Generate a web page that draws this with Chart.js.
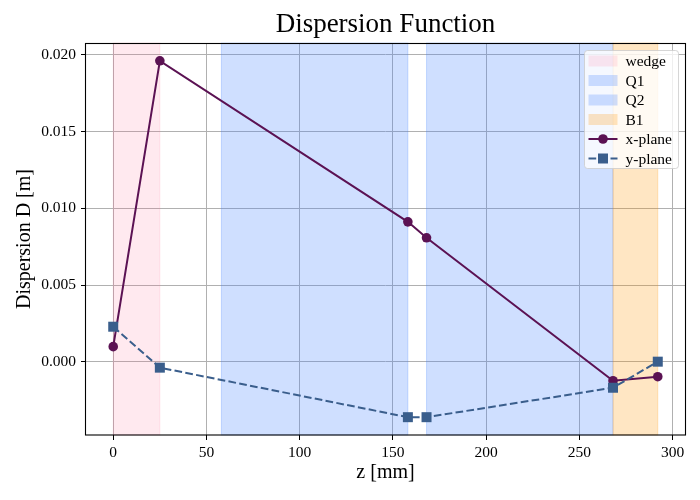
<!DOCTYPE html>
<html>
<head>
<meta charset="utf-8">
<script src="https://cdn.jsdelivr.net/npm/chart.js@4"></script>
<style>
  html, body { margin: 0; padding: 0; background: #fff; }
  #wrap { width: 700px; height: 500px; }
</style>
</head>
<body>
<div id="wrap"><canvas id="dispChart"></canvas></div>
<script>
// element positions along the beamline [mm]
const zPositions = [0, 25, 158, 168, 268, 292];
// dispersion [m]
const dispX = [0.00098, 0.01962, 0.00912, 0.00808, -0.00124, -0.00098];
const dispY = [0.00228, -0.00039, -0.00362, -0.00362, -0.0017, 0.0];

// shaded element regions [mm]
const regionNames = ['wedge', 'Q1', 'Q2', 'B1'];
const regionStart = [0, 58, 168, 268];
const regionEnd = [25, 158, 268, 292];
const regionColors = ['rgba(255,105,150,0.15)', 'rgba(64,128,255,0.25)', 'rgba(64,128,255,0.25)', 'rgba(255,150,0,0.235)'];

const xTicks = [0, 50, 100, 150, 200, 250, 300];
const yTicks = [0, 0.005, 0.010, 0.015, 0.020];

const lineNames = ['x-plane', 'y-plane'];
const lineColors = ['#5b1253', '#3a5e8c'];

const serif = "'Liberation Serif', 'DejaVu Serif', serif";
Chart.defaults.font.family = serif;
Chart.defaults.color = '#000';

const toPoints = (vals) => vals.map((v, i) => ({ x: zPositions[i], y: v }));

// axvspan style shading
const regionPlugin = {
  id: 'regions',
  beforeDatasetsDraw(chart) {
    const { ctx, chartArea, scales } = chart;
    ctx.save();
    regionNames.forEach((name, i) => {
      const x0 = scales.x.getPixelForValue(regionStart[i]);
      const x1 = scales.x.getPixelForValue(regionEnd[i]);
      ctx.fillStyle = regionColors[i];
      ctx.fillRect(x0, chartArea.top, x1 - x0, chartArea.bottom - chartArea.top);
      ctx.strokeStyle = regionColors[i];
      ctx.lineWidth = 1;
      ctx.strokeRect(x0, chartArea.top, x1 - x0, chartArea.bottom - chartArea.top);
    });
    ctx.restore();
  }
};

// black box around the axes
const framePlugin = {
  id: 'frame',
  afterDatasetsDraw(chart) {
    const { ctx, chartArea: a } = chart;
    ctx.save();
    ctx.strokeStyle = '#000';
    ctx.lineWidth = 1.1;
    ctx.strokeRect(Math.round(a.left) - 0.5, Math.round(a.top) + 0.5,
      Math.round(a.right - a.left) + 1, Math.round(a.bottom - a.top) - 0.5);
    ctx.restore();
  }
};

// legend box in the upper right corner
const legendPlugin = {
  id: 'boxLegend',
  afterDraw(chart) {
    const { ctx, chartArea: a } = chart;
    const bw = 94, bh = 118;
    const bx = Math.round(a.right - 7 - bw) + 0.5;
    const by = Math.round(a.top + 7) + 0.5;
    ctx.save();
    ctx.beginPath();
    ctx.roundRect(bx, by, bw, bh, 3);
    ctx.fillStyle = 'rgba(255,255,255,0.8)';
    ctx.fill();
    ctx.strokeStyle = 'rgba(204,204,204,0.8)';
    ctx.lineWidth = 1;
    ctx.stroke();

    const sx = bx + 4, sw = 29;
    const textX = bx + 41;
    let rowY = by + 10.5;
    ctx.font = '15.5px ' + serif;
    ctx.textBaseline = 'middle';
    ctx.textAlign = 'left';

    regionNames.forEach((name, i) => {
      ctx.fillStyle = regionColors[i];
      ctx.fillRect(sx, rowY - 5.5, sw, 11);
      ctx.fillStyle = '#000';
      ctx.fillText(name, textX, rowY + 1);
      rowY += 19.5;
    });

    lineNames.forEach((name, i) => {
      ctx.strokeStyle = lineColors[i];
      ctx.fillStyle = lineColors[i];
      ctx.lineWidth = 2;
      ctx.setLineDash(i === 1 ? [7.7, 3.3] : []);
      ctx.beginPath();
      ctx.moveTo(sx, rowY);
      ctx.lineTo(sx + sw, rowY);
      ctx.stroke();
      ctx.setLineDash([]);
      const cx = sx + sw / 2;
      ctx.beginPath();
      if (i === 0) {
        ctx.arc(cx, rowY, 4.8, 0, Math.PI * 2);
      } else {
        ctx.rect(cx - 5, rowY - 5, 10, 10);
      }
      ctx.fill();
      ctx.fillStyle = '#000';
      ctx.fillText(name, textX, rowY + 1);
      rowY += 19.5;
    });
    ctx.restore();
  }
};

new Chart(document.getElementById('dispChart'), {
  type: 'line',
  data: {
    datasets: [
      {
        label: lineNames[0],
        data: toPoints(dispX),
        borderColor: lineColors[0],
        backgroundColor: lineColors[0],
        borderWidth: 2,
        pointRadius: 4.8,
        pointBorderWidth: 0,
        pointStyle: 'circle',
        tension: 0,
        order: 1
      },
      {
        label: lineNames[1],
        data: toPoints(dispY),
        borderColor: lineColors[1],
        backgroundColor: lineColors[1],
        borderWidth: 2,
        borderDash: [7.7, 3.3],
        pointRadius: 7.07,
        pointBorderWidth: 0,
        pointStyle: 'rect',
        tension: 0,
        order: 0
      }
    ]
  },
  options: {
    responsive: true,
    maintainAspectRatio: false,
    animation: false,
    layout: { padding: { left: 0, right: 15, top: 0, bottom: 0 } },
    plugins: {
      legend: { display: false },
      tooltip: { enabled: false },
      title: {
        display: true,
        text: 'Dispersion Function',
        fullSize: false,
        font: { size: 27, weight: 'normal', family: serif },
        padding: { top: 9, bottom: 1.6 }
      }
    },
    scales: {
      x: {
        type: 'linear',
        min: -14.6,
        max: 306.6,
        afterBuildTicks: (scale) => { scale.ticks = xTicks.map(v => ({ value: v })); },
        afterFit: (scale) => { scale.height = 65; },
        ticks: {
          autoSkip: false,
          maxRotation: 0,
          padding: 4,
          font: { size: 15.5 },
          callback: (v) => String(v)
        },
        grid: { color: '#b0b0b0', lineWidth: 1, tickColor: '#000', tickLength: 5 },
        border: { display: false },
        title: {
          display: true,
          text: 'z [mm]',
          font: { size: 20 },
          padding: { top: 15, bottom: 15 }
        }
      },
      y: {
        type: 'linear',
        min: -0.004782,
        max: 0.020782,
        afterBuildTicks: (scale) => { scale.ticks = yTicks.map(v => ({ value: v })); },
        afterFit: (scale) => { scale.width = 86; },
        ticks: {
          autoSkip: false,
          padding: 5,
          font: { size: 15.5 },
          callback: (v) => v.toFixed(3)
        },
        grid: { color: '#b0b0b0', lineWidth: 1, tickColor: '#000', tickLength: 5 },
        border: { display: false },
        title: {
          display: true,
          text: 'Dispersion D [m]',
          font: { size: 20 },
          padding: { top: 13, bottom: 13 }
        }
      }
    }
  },
  plugins: [regionPlugin, framePlugin, legendPlugin]
});
</script>
</body>
</html>
